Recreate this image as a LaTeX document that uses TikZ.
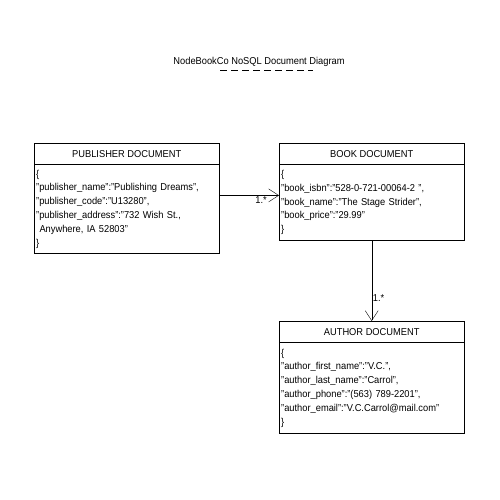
\documentclass[tikz,border=0pt]{standalone}
\usepackage{fontspec}
\setmainfont[FakeStretch=0.93]{Liberation Sans}
\usetikzlibrary{arrows.meta}
\usetikzlibrary{calc}
\usetikzlibrary{positioning}
\tikzstyle{dochead} = [
    rectangle,
    draw=black,
    minimum width=185pt,
    minimum height=21pt,
    inner sep=0pt,
    anchor=north west,
    font=\fontsize{10}{11}\selectfont
]
\tikzstyle{docbody} = [
    rectangle,
    draw=black,
    text width=181pt,
    inner xsep=2pt,
    inner ysep=2pt,
    anchor=north,
    align=left,
    font=\fontsize{10}{13.8}\selectfont
]
\tikzstyle{rel} = [
    draw,
    -{Straight Barb[length=10pt,width=13pt]}
]
\tikzstyle{mult} = [inner sep=1pt, font=\fontsize{10}{11}\selectfont]

\begin{document}
\begin{tikzpicture}[x=1pt,y=-1pt]
\useasboundingbox[fill=white] (0,0) rectangle (500,500);

\node[font=\fontsize{10}{11}\selectfont] (title) at (259,62) {NodeBookCo NoSQL Document Diagram};
\coordinate (ulstart) at (220,70);
\coordinate (ulend)   at (313,70);
\draw[dash pattern=on 7pt off 4pt] (ulstart) -- (ulend);

\node[dochead] (pubhead) at (34,143) {PUBLISHER DOCUMENT};
\node[docbody, minimum height=89pt] (pubbody) at (pubhead.south)
{
\{\\
"publisher\_name":"Publishing Dreams",\\
"publisher\_code":"U13280",\\
"publisher\_address":"732 Wish St.,\\
\ Anywhere, IA 52803"\\
\}
};

\node[dochead] (bookhead) at (279,143) {BOOK DOCUMENT};
\node[docbody, minimum height=76pt] (bookbody) at (bookhead.south)
{
\{\\
"book\_isbn":"528-0-721-00064-2 ",\\
"book\_name":"The Stage Strider",\\
"book\_price":"29.99"\\
\}
};

\node[dochead] (authhead) at (279,321) {AUTHOR DOCUMENT};
\node[docbody, minimum height=91pt] (authbody) at (authhead.south)
{
\{\\
"author\_first\_name":"V.C.",\\
"author\_last\_name":"Carrol",\\
"author\_phone":"(563) 789-2201",\\
"author\_email":"V.C.Carrol@mail.com"\\
\}
};

\draw[rel] ([yshift=-31pt]pubbody.north east) to node[mult, below, pos=0.7] {1.*} ([yshift=-31pt]bookbody.north west);
\draw[rel] (bookbody.south) to node[mult, right, pos=0.72] {1.*} (authhead.north);
\end{tikzpicture}
\end{document}
